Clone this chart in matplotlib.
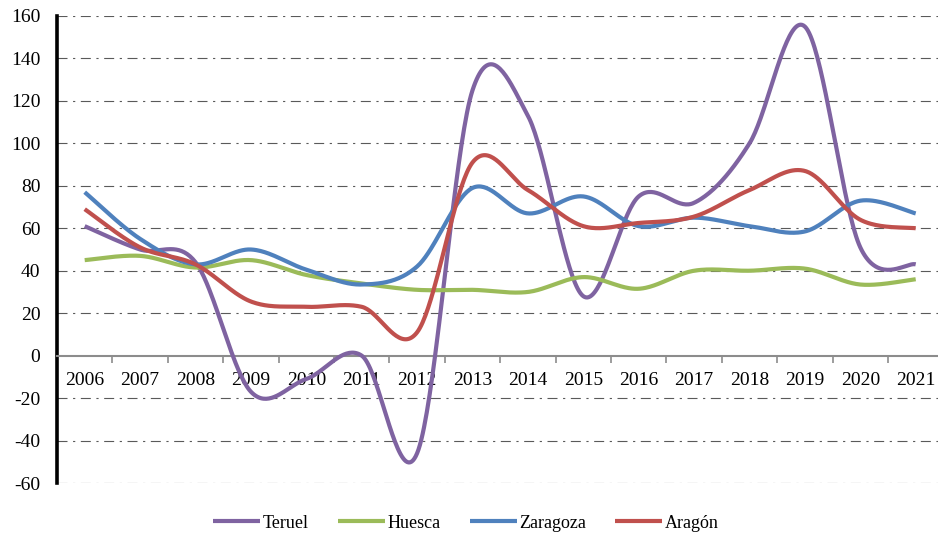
import numpy as np
import matplotlib
matplotlib.use("Agg")
import matplotlib.pyplot as plt
from matplotlib.ticker import FixedLocator

years = ["2006", "2007", "2008", "2009", "2010", "2011", "2012", "2013",
         "2014", "2015", "2016", "2017", "2018", "2019", "2020", "2021"]
teruel = [61, 50, 44, -17, -11, 0, -46, 125, 113, 28, 75, 72, 100, 155, 51, 43]
huesca = [45, 47, 41.5, 45, 38, 34, 31, 31, 30, 37, 31.5, 40, 40, 41, 33.5, 36]
zaragoza = [77, 55, 43, 50, 40.5, 33.5, 42, 79, 67, 75, 61, 65, 61, 58.5, 73, 67]
aragon = [69, 51, 43, 25.5, 23, 23, 11, 91, 78, 61, 62.5, 65.5, 78, 87, 64, 60]
yticks = [-60, -40, -20, 0, 20, 40, 60, 80, 100, 120, 140, 160]

series = [("Teruel", teruel, "#7F63A1"),
          ("Huesca", huesca, "#9BBB59"),
          ("Zaragoza", zaragoza, "#4F81BD"),
          ("Aragón", aragon, "#C0504D")]

plt.rcParams['font.family'] = ['Liberation Serif', 'DejaVu Serif']
plt.rcParams['axes.unicode_minus'] = False


def smooth(vals, steps=40):
    P = np.column_stack([np.arange(len(vals), dtype=float), np.asarray(vals, float)])
    n = len(P)
    out = []
    for i in range(n - 1):
        prev = max(i - 1, 0)
        nxt = min(i + 2, n - 1)
        p0, p3 = P[i], P[i + 1]
        c1 = p0 + (P[i + 1] - P[prev]) / 6.0
        c2 = p3 - (P[nxt] - P[i]) / 6.0
        t = np.linspace(0, 1, steps, endpoint=(i == n - 2))[:, None]
        seg = ((1 - t) ** 3) * p0 + 3 * ((1 - t) ** 2) * t * c1 + 3 * (1 - t) * t ** 2 * c2 + t ** 3 * p3
        out.append(seg)
    out = np.vstack(out)
    return out[:, 0], out[:, 1]


W, H = 938, 542
fig = plt.figure(figsize=(W / 100, H / 100), dpi=100)
left_px, right_px, top_px, bot_px = 57, 938, 16, 483
ax = fig.add_axes([left_px / W, 1 - bot_px / H, (right_px - left_px) / W, (bot_px - top_px) / H])

cat_w = 55.4
ax.set_xlim(-0.5, -0.5 + (right_px - left_px) / cat_w)
ax.set_ylim(-60, 160)

# gridlines
for yv in yticks:
    if yv == 0:
        continue
    ax.axhline(yv, color="#5a5a5a", lw=0.8, dashes=(9, 5, 2, 5), zorder=1)

for name, vals, col in series:
    xs, ys = smooth(vals)
    ax.plot(xs, ys, color=col, lw=3.0, label=name, solid_capstyle="butt", zorder=3)

for s in ["top", "right"]:
    ax.spines[s].set_visible(False)
ax.spines["left"].set_linewidth(2.6)
ax.spines["left"].set_color("black")
ax.spines["bottom"].set_position(("data", 0))
ax.spines["bottom"].set_color("#8c8c8c")
ax.spines["bottom"].set_linewidth(1.5)

ax.set_yticks(yticks)
ax.set_yticklabels([str(v) for v in yticks], fontsize=14)
ax.tick_params(axis="y", length=0, pad=12)

ax.xaxis.set_major_locator(FixedLocator(np.arange(len(years))))
ax.set_xticklabels(years, fontsize=14)
ax.xaxis.set_minor_locator(FixedLocator(np.arange(len(years)) + 0.5))
ax.tick_params(axis="x", which="major", length=0, pad=12)
ax.tick_params(axis="x", which="minor", length=5, width=1.2, color="#8c8c8c", direction="out")

handles, labels = ax.get_legend_handles_labels()
fig.legend(handles, labels, loc="center", bbox_to_anchor=(466 / W, 1 - 523 / H), ncol=4,
           frameon=False, fontsize=13, handlelength=2.6, handletextpad=0.15,
           columnspacing=1.6)

fig.savefig("out.png", dpi=100)
